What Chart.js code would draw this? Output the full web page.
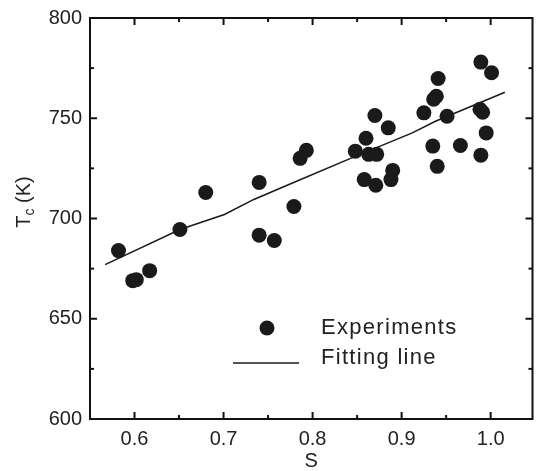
<!DOCTYPE html>
<html>
<head>
<meta charset="utf-8">
<script src="https://cdn.jsdelivr.net/npm/chart.js@4/dist/chart.umd.min.js"></script>
<style>
  html, body { margin: 0; padding: 0; background: #fff; }
  #wrap { width: 540px; height: 471px; }
</style>
</head>
<body>
<div id="wrap"><canvas id="myChart" width="540" height="471"></canvas></div>
<script>
// measured S and Tc values
const expS = [0.582, 0.598, 0.602, 0.617, 0.651, 0.680, 0.740, 0.740, 0.757, 0.779,
  0.786, 0.793, 0.848, 0.860, 0.858, 0.863, 0.872, 0.870, 0.871, 0.885, 0.888, 0.890,
  0.925, 0.936, 0.939, 0.941, 0.935, 0.940, 0.951, 0.966, 0.989, 1.001, 0.988, 0.991,
  0.995, 0.989];
const expTc = [684, 669, 669.5, 674, 694.5, 713, 718, 691.7, 689, 706,
  730, 734, 733.6, 740, 719.4, 732, 732, 751.4, 716.6, 745.2, 719.4, 724,
  752.7, 759.5, 761, 769.8, 736.1, 726, 751, 736.4, 778, 772.7, 754.5, 753,
  742.7, 731.6];

// fitting line as drawn
const fitS = [0.567, 0.651, 0.701, 0.734, 0.782, 0.848, 0.912, 0.938, 1.016];
const fitTc = [677, 694.5, 702, 709.5, 718.6, 731, 742.7, 748.5, 763];

const xTicks = [0.6, 0.7, 0.8, 0.9, 1.0];
const yTicks = [600, 650, 700, 750, 800];
const xMinor = [0.65, 0.75, 0.85, 0.95];
const yMinor = [625, 675, 725, 775];

const FONT = "'Liberation Sans', Arial, sans-serif";
const INK = "#1a1a1a";

const framePlugin = {
  id: "frame_ticks",
  afterDraw: (chart) => {
    const ctx = chart.ctx;
    const a = chart.chartArea;
    const xs = chart.scales.x;
    const ys = chart.scales.y;
    ctx.save();
    ctx.strokeStyle = "#111";
    ctx.lineWidth = 2;
    ctx.strokeRect(a.left, a.top, a.right - a.left, a.bottom - a.top);

    const tick = (x1, y1, x2, y2) => {
      ctx.beginPath();
      ctx.moveTo(x1, y1);
      ctx.lineTo(x2, y2);
      ctx.stroke();
    };
    xTicks.forEach((v) => {
      const px = xs.getPixelForValue(v);
      tick(px, a.bottom, px, a.bottom - 7);
      tick(px, a.top, px, a.top + 7);
    });
    xMinor.forEach((v) => {
      const px = xs.getPixelForValue(v);
      tick(px, a.bottom, px, a.bottom - 4);
      tick(px, a.top, px, a.top + 4);
    });
    yTicks.forEach((v) => {
      const py = ys.getPixelForValue(v);
      tick(a.left, py, a.left + 7, py);
      tick(a.right, py, a.right - 7, py);
    });
    yMinor.forEach((v) => {
      const py = ys.getPixelForValue(v);
      tick(a.left, py, a.left + 4, py);
      tick(a.right, py, a.right - 4, py);
    });

    // y title with subscript
    ctx.fillStyle = "#222";
    ctx.translate(24, 202);
    ctx.rotate(-Math.PI / 2);
    ctx.textBaseline = "middle";
    ctx.font = "20px " + FONT;
    const wT = ctx.measureText("T").width;
    ctx.font = "14px " + FONT;
    const wc = ctx.measureText("c").width;
    ctx.font = "20px " + FONT;
    const wK = ctx.measureText(" (K)").width;
    let x0 = -(wT + wc + wK) / 2;
    ctx.textAlign = "left";
    ctx.fillText("T", x0, 0);
    ctx.font = "14px " + FONT;
    ctx.fillText("c", x0 + wT, 6);
    ctx.font = "20px " + FONT;
    ctx.fillText(" (K)", x0 + wT + wc, 0);
    ctx.restore();

    // legend
    ctx.save();
    ctx.fillStyle = INK;
    ctx.beginPath();
    ctx.arc(267, 328, 7.5, 0, Math.PI * 2);
    ctx.fill();
    ctx.strokeStyle = INK;
    ctx.lineWidth = 1.5;
    tick(233, 363, 299, 363);
    ctx.fillStyle = "#222";
    ctx.font = "22px " + FONT;
    ctx.letterSpacing = "1.3px";
    ctx.textBaseline = "middle";
    ctx.textAlign = "left";
    ctx.fillText("Experiments", 321, 328);
    ctx.fillText("Fitting line", 321, 358);
    ctx.restore();
  },
};

const data = {
  datasets: [
    {
      label: "Experiments",
      type: "scatter",
      data: expS.map((s, i) => ({ x: s, y: expTc[i] })),
      backgroundColor: INK,
      borderColor: INK,
      pointRadius: 7.5,
      pointBorderWidth: 0,
    },
    {
      label: "Fitting line",
      type: "line",
      data: fitS.map((s, i) => ({ x: s, y: fitTc[i] })),
      borderColor: INK,
      borderWidth: 1.5,
      pointRadius: 0,
      fill: false,
      tension: 0,
    },
  ],
};

const config = {
  type: "scatter",
  data: data,
  plugins: [framePlugin],
  options: {
    responsive: false,
    animation: false,
    layout: { padding: { top: 18, right: -1.5, left: 0, bottom: 0 } },
    scales: {
      x: {
        type: "linear",
        min: 0.55,
        max: 1.047,
        afterBuildTicks: (axis) => {
          axis.ticks = xTicks.map((v) => ({ value: v }));
        },
        afterFit: (axis) => {
          axis.height = 52;
          axis.paddingLeft = 0;
          axis.paddingRight = 0;
        },
        grid: { display: false, drawTicks: false },
        border: { display: false },
        ticks: {
          padding: 8,
          color: "#222",
          font: { family: FONT, size: 20 },
          callback: (v) => Number(v).toFixed(1),
        },
        title: {
          display: true,
          text: "S",
          color: "#222",
          font: { family: FONT, size: 20, lineHeight: 1.0 },
          padding: { top: 0, bottom: 0 },
        },
      },
      y: {
        min: 600,
        max: 800,
        afterBuildTicks: (axis) => {
          axis.ticks = yTicks.map((v) => ({ value: v }));
        },
        afterFit: (axis) => {
          axis.width = 90;
          axis.paddingTop = 0;
          axis.paddingBottom = 0;
        },
        grid: { display: false, drawTicks: false },
        border: { display: false },
        ticks: {
          padding: 8,
          color: "#222",
          font: { family: FONT, size: 20 },
        },
      },
    },
    plugins: {
      legend: { display: false },
      tooltip: { enabled: false },
    },
  },
};

const myChart = new Chart(document.getElementById("myChart"), config);
</script>
</body>
</html>
